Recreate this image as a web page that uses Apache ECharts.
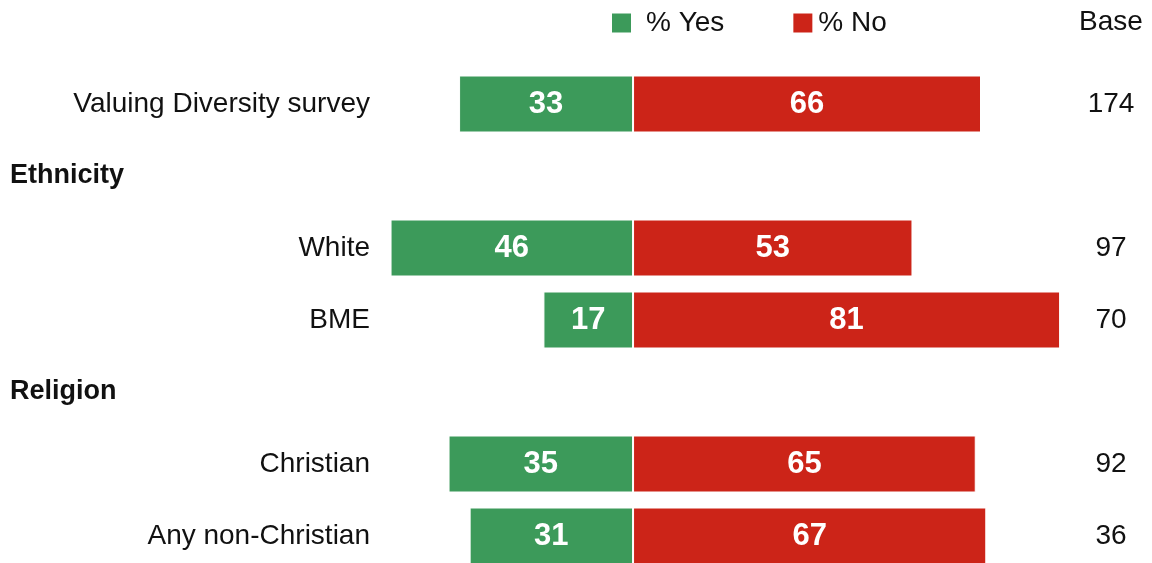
<!DOCTYPE html>
<html>
<head>
<meta charset="utf-8">
<script src="https://cdn.jsdelivr.net/npm/echarts@6/dist/echarts.min.js"></script>
<style>html,body{margin:0;padding:0;background:#fff}#c{width:1152px;height:563px}</style>
</head>
<body>
<div id="c"></div>
<script>
const categories = ['Valuing Diversity survey', 'Ethnicity', 'White', 'BME', 'Religion', 'Christian', 'Any non-Christian'];
const headers = ['Ethnicity', 'Religion'];
const yesValues = [33, null, 46, 17, null, 35, 31];
const noValues = [66, null, 53, 81, null, 65, 67];
const baseValues = ['174', '', '97', '70', '', '92', '36'];
const seriesNames = ['% Yes', '% No'];

const FONT = "'Liberation Sans', Arial, Helvetica, sans-serif";
const GREEN = '#3c9a5a';
const RED = '#cc2418';

const chart = echarts.init(document.getElementById('c'), null, {renderer: 'canvas'});
const option = {
  animation: false,
  backgroundColor: '#fff',
  textStyle: {fontFamily: FONT},
  legend: {
    data: [
      {name: seriesNames[0], textStyle: {padding: [0, 0, 0, 10]}},
      {name: seriesNames[1], textStyle: {padding: [0, 0, 0, 1]}}
    ],
    left: 612,
    top: 9,
    padding: 0,
    itemWidth: 19,
    itemHeight: 19,
    itemGap: 69,
    icon: 'rect',
    itemStyle: {borderWidth: 0},
    textStyle: {fontSize: 28, lineHeight: 19, color: '#111', fontFamily: FONT}
  },
  grid: {left: 380, right: 55, top: 68, height: 504, containLabel: false, outerBoundsMode: 'none'},
  xAxis: {
    type: 'value', min: -48, max: 88, show: false
  },
  yAxis: [
    {
      type: 'category', data: categories, inverse: true, position: 'left',
      axisLine: {show: false}, axisTick: {show: false}, splitLine: {show: false},
      axisLabel: {
        margin: 10, fontSize: 28, color: '#111', fontFamily: FONT,
        formatter: v => headers.includes(v) ? '' : v
      }
    },
    {
      type: 'category', data: categories, inverse: true, position: 'left', offset: 370,
      axisLine: {show: false}, axisTick: {show: false}, splitLine: {show: false},
      axisLabel: {
        inside: true, margin: 0, align: 'left', fontSize: 27, fontWeight: 'bold', color: '#111', fontFamily: FONT,
        formatter: v => headers.includes(v) ? v : ''
      }
    },
    {
      type: 'category', data: categories, inverse: true, position: 'right',
      axisLine: {show: false}, axisTick: {show: false}, splitLine: {show: false},
      name: 'Base', nameLocation: 'start', nameGap: 46,
      nameTextStyle: {fontSize: 28, color: '#111', fontFamily: FONT, align: 'center', verticalAlign: 'middle', padding: [0, 0, 0, 28]},
      axisLabel: {
        margin: 14, align: 'center', fontSize: 28, color: '#111', fontFamily: FONT,
        formatter: (v, i) => baseValues[i]
      }
    }
  ],
  series: [
    {
      name: seriesNames[0], type: 'bar', stack: 'total', barWidth: 57,
      data: yesValues.map(v => v == null ? null : -v),
      itemStyle: {color: GREEN, borderColor: '#fff', borderWidth: 1},
      label: {show: true, position: 'inside', color: '#fff', fontSize: 31, fontWeight: 'bold', fontFamily: FONT,
        formatter: p => Math.abs(p.value)}
    },
    {
      name: seriesNames[1], type: 'bar', stack: 'total', barWidth: 57,
      data: noValues,
      itemStyle: {color: RED, borderColor: '#fff', borderWidth: 1},
      label: {show: true, position: 'inside', color: '#fff', fontSize: 31, fontWeight: 'bold', fontFamily: FONT,
        formatter: p => Math.abs(p.value)}
    }
  ]
};
chart.setOption(option);
</script>
</body>
</html>
